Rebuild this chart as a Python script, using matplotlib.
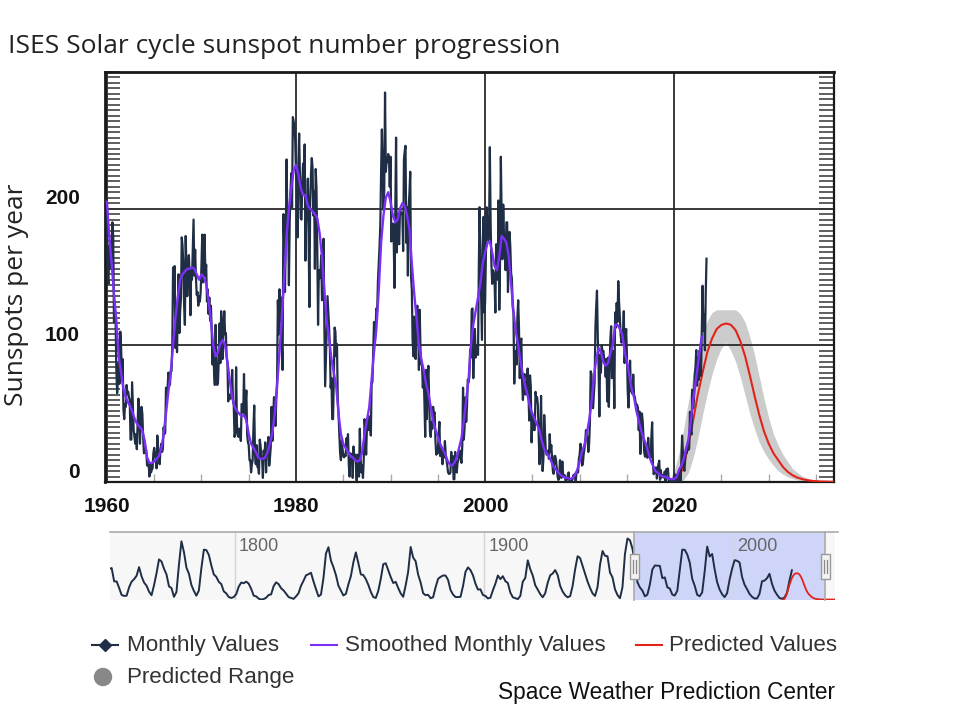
import numpy as np
import matplotlib
matplotlib.use("Agg")
import matplotlib.pyplot as plt
from matplotlib.ticker import MultipleLocator, FixedLocator, NullFormatter
from matplotlib.lines import Line2D
from matplotlib.patches import Rectangle, Ellipse
import matplotlib.transforms as mtrans

# ---------------- data ----------------
monthly_start = 1960  # Jan 1960, monthly steps
monthly_values = [
    207,150,145,173,169,156,172,190,180,117,127,121,   # 1960
    82,65,75,87,72,110,99,79,90,53,46,57,              # 1961
    55,71,65,66,62,60,31,31,73,56,38,33,               # 1962
    28,35,24,42,61,51,28,47,55,50,33,21,               # 1963
    22,25,23,12,13,13,4,13,7,9,10,21,                  # 1964
    25,20,17,10,34,23,17,13,24,28,22,24,               # 1965
    40,35,36,69,64,68,80,73,71,81,81,100,              # 1966
    157,133,158,98,123,95,130,152,109,125,134,179,     # 1967
    173,159,131,115,180,156,136,155,166,153,122,156,   # 1968
    148,171,192,151,170,150,137,139,129,136,132,139,   # 1969
    158,181,146,155,181,151,159,132,141,123,135,118,   # 1970
    129,112,86,102,81,71,115,87,71,73,90,116,          # 1971
    87,125,114,90,114,125,108,109,91,87,59,64,         # 1972
    61,61,65,82,60,56,33,36,84,43,34,33,               # 1973
    39,37,30,57,56,51,79,48,57,67,35,29,               # 1974
    27,16,16,7,13,16,40,56,20,13,27,11,                # 1975
    11,6,31,27,18,17,3,23,19,29,7,22,                  # 1976
    23,33,12,18,26,55,30,43,62,62,41,61,               # 1977
    74,133,108,141,117,135,100,82,196,177,139,174,     # 1978
    236,195,196,144,190,212,226,201,267,264,260,250,   # 1979
    226,220,179,233,255,223,193,192,220,233,210,247,   # 1980
    162,200,192,222,181,128,204,225,237,230,195,213,   # 1981
    156,229,215,171,115,155,149,151,166,133,137,178,   # 1982
    115,70,91,111,136,125,113,98,69,76,46,46,          # 1983
    75,113,110,92,101,61,49,34,21,16,30,25,            # 1984
    19,18,20,19,32,28,35,13,4,21,19,20,                # 1985
    3,26,17,20,15,1,20,8,4,39,17,7,                    # 1986
    12,3,17,46,38,20,39,45,38,48,42,34,                # 1987
    73,73,95,117,101,112,127,125,147,160,172,188,      # 1988
    226,258,231,199,213,285,227,235,234,240,237,216,   # 1989
    238,176,189,189,178,142,201,252,168,196,177,174,   # 1990
    200,196,197,196,169,236,242,246,175,201,151,201,   # 1991
    212,227,150,141,104,92,121,91,90,125,129,116,      # 1992
    82,126,97,86,85,69,80,59,33,82,46,74,              # 1993
    85,60,37,33,44,39,55,50,51,30,20,22,               # 1994
    21,35,44,19,19,24,13,21,18,30,20,16,               # 1995
    12,7,6,6,7,22,13,19,2,2,22,11,                     # 1996
    7,14,16,20,23,18,14,26,69,31,40,62,                # 1997
    44,55,75,73,77,97,91,126,127,76,101,112,           # 1998
    91,97,100,93,155,201,166,137,104,170,194,124,      # 1999
    131,164,201,182,177,182,245,190,160,145,155,152,   # 2000
    147,124,174,165,148,206,126,163,238,193,163,203,   # 2001
    179,169,155,190,190,139,157,183,172,153,149,128,   # 2002
    124,72,96,94,86,121,133,113,76,102,105,73,         # 2003
    60,75,79,64,67,70,83,66,45,78,70,29,               # 2004
    48,45,38,38,66,61,62,56,34,13,28,63,               # 2005
    25,8,17,49,36,23,20,21,23,17,35,22,                # 2006
    27,17,8,6,19,19,16,10,4,1.5,3,16,                  # 2007
    5,3,15,5,5,5,1,1,2,5,7,1,                          # 2008
    2,2,1,2,5,4,6,0,7,7,7,17,                          # 2009
    20,28,23,12,13,20,24,29,38,35,32,22,               # 2010
    28,43,81,79,60,54,64,73,113,128,140,106,           # 2011
    85,48,93,80,100,94,96,91,89,77,90,59,              # 2012
    91,55,84,105,114,76,83,96,54,124,113,131,          # 2013
    117,147,132,121,108,102,104,107,125,87,100,112,    # 2014
    93.0,66.7,54.5,75.3,88.8,66.5,65.8,64.4,78.6,63.6,62.2,58.0,   # 2015
    57.0,56.4,54.1,37.9,51.5,20.5,32.4,50.2,44.6,33.4,21.4,18.5,   # 2016
    26.1,26.4,17.7,32.3,18.9,19.2,17.8,32.6,43.7,13.2,5.7,8.2,     # 2017
    6.8,10.7,2.5,8.9,13.1,15.6,1.6,8.7,3.3,4.9,4.9,3.1,            # 2018
    7.7,0.8,9.4,9.1,9.9,1.2,0.9,0.5,1.1,0.4,0.5,1.5,               # 2019
    6.2,0.2,1.5,5.2,0.2,5.8,6.1,7.5,0.6,14.4,34.0,21.8,            # 2020
    10.4,8.2,17.2,24.5,21.2,25.0,23.4,24.6,51.3,37.4,34.8,67.5,    # 2021
    54.0,59.7,78.5,84.1,96.5,70.5,91.4,74.6,96.0,95.5,77.6,113.1,  # 2022
    143.6,110.9,122.6,96.4,137.9,163.4,                           # 2023
]

smoothed_start = 1960  # quarterly: Jan, Apr, Jul, Oct
smoothed_quarterly = [
    205,180,160,138,  118,92,80,68,  62,58,55,50,  45,42,40,38,
    30,18,14,14,  15,17,19,24,  35,50,66,80,  100,120,135,148,
    152,154,156,156,  157,156,152,148,  152,150,145,133,  118,100,92,95,
    101,104,100,88,  74,62,55,52,  50,48,49,45,  35,28,25,22,
    18,17,17,18,  22,28,36,50,  70,95,120,150,  180,200,215,228,
    232,225,215,210,  210,202,200,198,  196,193,182,165,  140,118,105,90,
    80,70,50,35,  28,25,22,19,  18,16,15,16,  22,35,45,55,
    75,95,112,140,  175,195,208,212,  205,195,190,192,  200,204,202,195,
    185,160,138,120,  100,90,82,72,  65,55,45,38,  33,28,24,21,
    16,13,12,14,  18,25,32,45,  60,75,100,115,  125,135,145,160,
    168,175,176,168,  158,155,165,180,  178,175,165,145,  125,110,100,88,
    78,70,63,55,  50,46,42,38,  30,24,21,19,  15,11,9,7,
    5,4,3,3,  2,3,5,9,  15,22,27,35,  45,58,76,90,
    98,95,88,85,  87,94,100,115,  115,112,108,96,  88,78,68,62,
    52,45,38,32,  28,22,16,12,  8,7,5,4,  4,3,2.5,2,
    2.2,3.6,8.8,11.8,  16.6,24,31,44.3,  59.7,72.8,86.4,98.5,
]
smoothed_last_time = 2022 + 11 / 12
smoothed_last_value = 106.4

pred_start = 2020.0  # half-year steps
predicted_values = [
    0.5,3,12,27,45,64,80,95,105,112,115,116,115,111,103,92,78,63,49,37,
    28,21,16,11,7.5,5,3.3,2.2,1.4,0.9,0.6,0.4,0.3,0.2,0.1,
    0.1,0.1,0.1,0.1,0.1,0.1,0.1,0.1,
]
range_high = [
    8,21,39,59,78,95,109,118,124,126,126,126,126,126,123,117,106,93,77,61,
    47,35,27,20,15,10,7,4.5,3,2,1.3,0.8,0.5,
]
range_low = [
    0,0.2,1.6,6.8,17.5,32,49,65,79,90,98,102,96,88,76.5,63.5,50,38.7,29,22,
    16.6,12,8.3,5.6,3.7,2.5,1.6,1,0.7,0.4,0.3,0.2,0.1,
]

nav_annual_start = 1749  # yearly means before 1960
nav_annual_values = [
    135,139,80,80,51,20,16,17,54,79,90,105,143,102,75,61,35,19,63,116,
    177,168,136,111,58,51,12,33,154,257,210,141,114,64,38,17,40,138,220,218,
    197,150,111,100,78,68,36,27,11,7,11,24,57,75,72,79,70,47,17,14,
    4,0,2,8,20,23,59,76,68,50,40,26,11,7,3,14,28,61,83,107,
    112,118,80,46,14,22,95,203,231,172,143,108,61,40,18,25,67,103,164,208,
    161,111,108,90,65,34,11,7,38,91,156,160,129,99,73,78,51,27,12,63,
    123,232,185,169,110,75,28,19,21,6,10,54,91,100,106,106,87,42,22,11,
    11,12,59,122,142,130,107,70,44,45,20,16,5,8,41,70,106,90,103,81,
    73,31,10,6,2,16,79,95,173,134,106,63,44,24,10,28,74,107,115,130,
    108,60,35,19,10,15,60,133,191,183,148,113,79,51,27,16,55,154,214,193,
    191,119,98,45,20,6,54,201,269,262,225,
]

nav_labels = ["1800", "1900", "2000"]
nav_label_years = [1800, 1900, 2000]
x_label_years = [1960, 1980, 2000, 2020]
y_label_values = [0, 100, 200]

# ---------------- figure ----------------
W, H = 960, 712
fig = plt.figure(figsize=(W / 100, H / 100), dpi=100)


def fx(p):
    return p / W


def fy(p):
    return 1 - p / H


SANS = ["Liberation Sans", "DejaVu Sans"]
TITLE_FONT = ["Open Sans", "DejaVu Sans"]

NAVY = "#1f2e45"
PURPLE = "#7b2ff7"
RED = "#e2231a"

# main axes
ax = fig.add_axes([fx(105), fy(482), (834 - 105) / W, (482 - 72) / H])
ax.set_xlim(1959.8, 2036.9)
ax.set_ylim(0, 300)

mv = np.array(monthly_values, dtype=float)
mt = monthly_start + np.arange(len(mv)) / 12.0
sv = np.array(list(smoothed_quarterly) + [smoothed_last_value], dtype=float)
st = np.array(list(smoothed_start + np.arange(len(smoothed_quarterly)) * 0.25) + [smoothed_last_time])
pv = np.array(predicted_values, dtype=float)
pt = pred_start + np.arange(len(pv)) * 0.5
rt = pred_start + np.arange(len(range_high)) * 0.5

ax.fill_between(rt, range_low, range_high, color="#cccccc", lw=0, zorder=1)
for yr in x_label_years:
    ax.axvline(yr, color="#2a2a2a", lw=1.3, zorder=1.5)
for v in [100, 200]:
    ax.axhline(v, color="#2a2a2a", lw=1.3, zorder=1.5)
ax.plot(pt, pv, color=RED, lw=1.5, zorder=3)
ax.plot(mt, mv, color=NAVY, lw=1.6, zorder=3)
ax.plot(st, sv, color=PURPLE, lw=1.7, zorder=4)

for name, s in ax.spines.items():
    s.set_color("#1a1a1a")
    s.set_linewidth(2.0 if name in ("left", "top") else 1.6)

ax.set_xticks([])
ax.xaxis.set_minor_locator(FixedLocator([1965, 1970, 1975, 1985, 1990, 1995,
                                          2005, 2010, 2015, 2025, 2030, 2035]))
ax.xaxis.set_minor_formatter(NullFormatter())
ax.tick_params(axis="x", which="minor", direction="in", length=6, width=1.0,
               color="#aaaaaa", bottom=True, top=False)
ax.yaxis.set_major_locator(MultipleLocator(4))
ax.yaxis.set_major_formatter(NullFormatter())
ax.tick_params(axis="y", which="major", direction="in", length=11, width=1.1,
               color="#333333", left=True, right=True)

ytr = ax.get_yaxis_transform() + mtrans.ScaledTranslation(-25 / 100, 10 / 100, fig.dpi_scale_trans)
for v in y_label_values:
    ax.text(0, v, str(v), transform=ytr, ha="right", va="center", fontsize=15,
            fontweight="bold", family=SANS, color="#111111")
xtr = ax.get_xaxis_transform() + mtrans.ScaledTranslation(0, -25 / 100, fig.dpi_scale_trans)
for yr in x_label_years:
    ax.text(yr, 0, str(yr), transform=xtr, ha="center", va="center", fontsize=15,
            fontweight="bold", family=SANS, color="#111111")

fig.text(fx(8), fy(53), "ISES Solar cycle sunspot number progression", ha="left",
         va="baseline", fontsize=19, family=TITLE_FONT, color="#222222")
fig.text(fx(17), fy(295), "Sunspots per year", rotation=90, ha="center", va="center",
         fontsize=19, family=TITLE_FONT, color="#222222")

# ---------------- navigator ----------------
nav = fig.add_axes([fx(110), fy(600), (835 - 110) / W, (600 - 532) / H])
nav.set_xlim(1749.83, 2040.8)
nav.set_ylim(-2, 298)
nav.set_facecolor("#f7f7f7")
for s in nav.spines.values():
    s.set_visible(False)
nav.set_xticks([])
nav.set_yticks([])
nav.axvspan(1960.15, 2036.8, color="#cfd5f8", lw=0, zorder=0.5)
for yr, lab in zip(nav_label_years, nav_labels):
    nav.axvline(yr, color="#d5d5d5", lw=1.0, zorder=0.8)
    nav.text(yr + 1.6, 0.78, lab, transform=nav.get_xaxis_transform(), ha="left",
             va="center", fontsize=13, family=SANS, color="#666666")

annual = np.array(nav_annual_values, dtype=float)
annual_t = nav_annual_start + np.arange(len(annual)) + 0.5
full_years = (len(mv) // 12)
grouped = mv[: full_years * 12].reshape(full_years, 12).mean(axis=1)
grouped_t = monthly_start + np.arange(full_years) + 0.5
rest = mv[full_years * 12:]
nav_t = np.concatenate([annual_t, grouped_t, [monthly_start + full_years + 0.5]])
nav_v = np.concatenate([annual, grouped, [rest.mean()]])
nav.plot(nav_t, nav_v, color=NAVY, lw=1.4, zorder=2)
nav.plot(pt, pv, color=RED, lw=1.3, zorder=2)

# navigator outline and handles
fig.add_artist(Line2D([fx(110), fx(838)], [fy(532), fy(532)], transform=fig.transFigure,
                      color="#aaaaaa", lw=1.2))
for hx in (634, 825):
    fig.add_artist(Line2D([fx(hx), fx(hx)], [fy(532), fy(600)], transform=fig.transFigure,
                          color="#aaaaaa", lw=1.2))
    fig.add_artist(Rectangle((fx(hx - 4.5), fy(579)), 9 / W, 25 / H, transform=fig.transFigure,
                             facecolor="#f2f2f2", edgecolor="#999999", lw=1.0, zorder=5))
    for dx in (-1.5, 1.5):
        fig.add_artist(Line2D([fx(hx + dx), fx(hx + dx)], [fy(560), fy(573)],
                              transform=fig.transFigure, color="#888888", lw=0.9, zorder=6))

# ---------------- legend ----------------
LEG_FS = 16.1
row1, row2 = 645, 677
base1, base2 = 651, 683
fig.add_artist(Line2D([fx(92), fx(118)], [fy(row1)] * 2, transform=fig.transFigure,
                      color=NAVY, lw=1.5))
fig.add_artist(Line2D([fx(105)], [fy(row1)], transform=fig.transFigure, color=NAVY,
                      marker="D", markersize=6, lw=0))
fig.text(fx(127), fy(base1), "Monthly Values", ha="left", va="baseline", fontsize=LEG_FS,
         family=SANS, color="#333333")
fig.add_artist(Line2D([fx(311), fx(337)], [fy(row1)] * 2, transform=fig.transFigure,
                      color=PURPLE, lw=1.5))
fig.text(fx(345), fy(base1), "Smoothed Monthly Values", ha="left", va="baseline",
         fontsize=LEG_FS, family=SANS, color="#333333")
fig.add_artist(Line2D([fx(636), fx(662)], [fy(row1)] * 2, transform=fig.transFigure,
                      color=RED, lw=1.5))
fig.text(fx(669), fy(base1), "Predicted Values", ha="left", va="baseline", fontsize=LEG_FS,
         family=SANS, color="#333333")
fig.add_artist(Ellipse((fx(103), fy(row2)), 17 / W, 17 / H, transform=fig.transFigure,
                       color="#888888"))
fig.text(fx(127), fy(base2), "Predicted Range", ha="left", va="baseline", fontsize=LEG_FS,
         family=SANS, color="#333333")
fig.text(fx(835), fy(699), "Space Weather Prediction Center", ha="right", va="baseline",
         fontsize=16.3, family=SANS, color="#111111")

fig.savefig("out.png", dpi=100)
